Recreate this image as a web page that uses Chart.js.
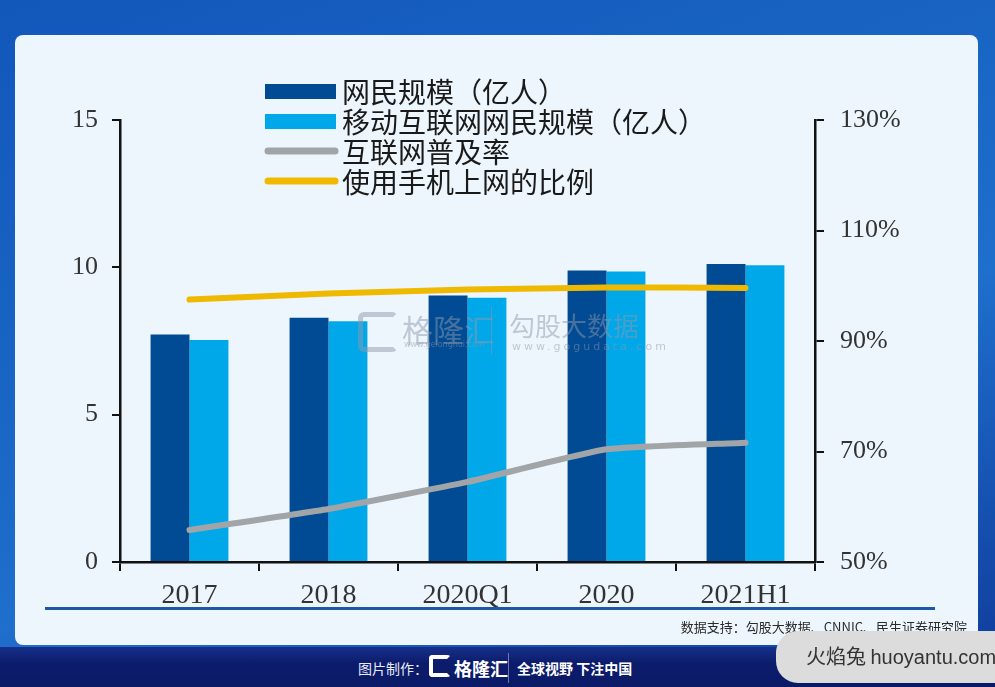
<!DOCTYPE html>
<html>
<head>
<meta charset="utf-8">
<script src="https://cdn.jsdelivr.net/npm/chart.js@4.4.1/dist/chart.umd.min.js"></script>
<style>
  html, body { margin: 0; padding: 0; }
  body {
    width: 995px; height: 687px; overflow: hidden; position: relative;
    background: linear-gradient(160deg, #1257ba 0%, #1b68c6 45%, #1f6fcc 60%, #0f3a9a 100%);
    font-family: "Noto Sans CJK SC", sans-serif;
  }
  #card {
    position: absolute; left: 15px; top: 35px; width: 963px; height: 610px;
    background: #eef6fd; border-radius: 8px;
  }
  #strip {
    position: absolute; left: 0; top: 647px; width: 995px; height: 40px;
    background: linear-gradient(180deg, #16308a 0%, #0c1c6c 40%, #0b1a66 100%);
  }
  #wrap { position: absolute; left: 15px; top: 35px; width: 963px; height: 610px; }
  .wm { position: absolute; color: #8e97aa; opacity: 0.5; white-space: nowrap; }
  .txt { position: absolute; white-space: nowrap; }
</style>
</head>
<body>
<div id="card"></div>
<div id="strip"></div>
<div id="wrap"><canvas id="chart"></canvas></div>

<!-- watermark -->
<div class="wm" style="left:358px;top:312px;width:30px;height:30px;border:5px solid #8e97aa;border-radius:6px;border-right-color:transparent;"></div>
<div class="wm" style="left:402px;top:306px;font-size:31px;">格隆汇</div>
<div class="wm" style="left:404px;top:340px;font-size:8px;font-family:'DejaVu Sans';">www.gelonghui.com</div>
<div class="wm" style="left:491px;top:307px;width:1px;height:48px;background:#8e97aa;"></div>
<div class="wm" style="left:509px;top:306px;font-size:26px;">勾股大数据</div>
<div class="wm" style="left:512px;top:340px;font-size:11px;letter-spacing:3px;font-family:'DejaVu Sans';">www.gogudata.com</div>

<!-- separator line and source -->
<div style="position:absolute;left:45px;top:607px;width:890px;height:3px;background:#1c58a6;"></div>
<div class="txt" style="right:28px;top:617px;font-size:13px;color:#2a2a2a;">数据支持：勾股大数据、CNNIC、民生证券研究院</div>

<!-- bottom strip -->
<div class="txt" style="left:358px;top:658px;font-size:14px;color:#e8ecf7;">图片制作：</div>
<div class="txt" style="left:429px;top:655px;width:22px;height:22px;border:4px solid #fff;border-radius:4px;border-right-color:transparent;box-sizing:border-box;"></div>
<div class="txt" style="left:454px;top:655px;font-size:18px;font-weight:700;color:#fff;">格隆汇</div>
<div style="position:absolute;left:508px;top:653px;width:1px;height:30px;background:#6b78b0;"></div>
<div class="txt" style="left:517px;top:658px;font-size:14px;font-weight:700;color:#fff;">全球视野 下注中国</div>

<!-- corner badge -->
<div class="txt" style="left:776px;top:631px;width:240px;height:52px;background:#dcdcdc;border-radius:22px;"></div>
<div class="txt" style="left:806px;top:641px;font-size:20px;color:#333;font-family:'Noto Sans CJK SC';">火焰兔 <span style="font-family:'Liberation Sans Narrow','Liberation Sans';">huoyantu.com</span></div>

<script>
const categories = ["2017", "2018", "2020Q1", "2020", "2021H1"];
const netizens = [7.72, 8.29, 9.04, 9.89, 10.11];
const mobileNetizens = [7.53, 8.17, 8.97, 9.86, 10.07];
const penetration = [55.8, 59.6, 64.5, 70.4, 71.6];
const mobileShare = [97.5, 98.6, 99.3, 99.7, 99.6];
const leftTicks = [0, 5, 10, 15];
const rightTicks = [50, 70, 90, 110, 130];

const serif = "'Liberation Serif', 'DejaVu Serif', serif";

// legend drawn by hand, stacked in rows like the original
const stackedLegend = {
    id: "stackedLegend",
    afterDatasetsDraw(chart) {
        const ctx = chart.ctx;
        ctx.save();
        chart.data.datasets.forEach((ds, i) => {
            const y = 56 + i * 30;
            const x = 250;
            if (ds.type === "line") {
                ctx.strokeStyle = ds.borderColor;
                ctx.lineWidth = 7;
                ctx.lineCap = "round";
                ctx.beginPath();
                ctx.moveTo(x + 3, y);
                ctx.lineTo(x + 70, y);
                ctx.stroke();
            } else {
                ctx.fillStyle = ds.backgroundColor;
                ctx.fillRect(x, y - 7, 71, 15);
            }
            ctx.fillStyle = "#1a1a1a";
            ctx.font = "28px 'Noto Sans CJK SC'";
            ctx.textBaseline = "middle";
            ctx.fillText(ds.label, x + 77, y + 1);
        });
        ctx.restore();
    }
};

const ctx = document.getElementById("chart").getContext("2d");
new Chart(ctx, {
    data: {
        labels: categories,
        datasets: [{
            type: "bar",
            label: "网民规模（亿人）",
            data: netizens,
            backgroundColor: "#004b93",
            yAxisID: "y",
            order: 2
        }, {
            type: "bar",
            label: "移动互联网网民规模（亿人）",
            data: mobileNetizens,
            backgroundColor: "#00a8ea",
            yAxisID: "y",
            order: 2
        }, {
            type: "line",
            label: "互联网普及率",
            data: penetration,
            borderColor: "#a2a5a8",
            borderWidth: 6,
            borderCapStyle: "round",
            pointRadius: 0,
            tension: 0.15,
            yAxisID: "y1",
            order: 1
        }, {
            type: "line",
            label: "使用手机上网的比例",
            data: mobileShare,
            borderColor: "#efb900",
            borderWidth: 6,
            borderCapStyle: "round",
            pointRadius: 0,
            tension: 0.15,
            yAxisID: "y1",
            order: 1
        }]
    },
    options: {
        responsive: true,
        maintainAspectRatio: false,
        animation: false,
        layout: { padding: { left: 45, right: 43, top: 85, bottom: 38 } },
        datasets: {
            bar: { categoryPercentage: 0.56, barPercentage: 1.0 }
        },
        plugins: {
            legend: { display: false },
            tooltip: { enabled: false }
        },
        scales: {
            x: {
                offset: true,
                afterFit: s => { s.height = 45; },
                border: { color: "#111", width: 2.5 },
                grid: { offset: true, drawOnChartArea: false, color: "#111", tickLength: 9, lineWidth: 2 },
                ticks: { color: "#333", padding: 8, font: { family: serif, size: 28 } }
            },
            y: {
                position: "left",
                min: 0, max: 15,
                afterFit: s => { s.width = 60; },
                afterBuildTicks: s => { s.ticks = leftTicks.map(v => ({ value: v })); },
                border: { color: "#111", width: 2.5 },
                grid: { drawOnChartArea: false, color: "#111", tickLength: 8, lineWidth: 2 },
                ticks: { color: "#333", padding: 14, font: { family: serif, size: 26 } }
            },
            y1: {
                position: "right",
                min: 50, max: 130,
                afterFit: s => { s.width = 120; },
                afterBuildTicks: s => { s.ticks = rightTicks.map(v => ({ value: v })); },
                border: { color: "#111", width: 2.5 },
                grid: { drawOnChartArea: false, color: "#111", tickLength: 9, lineWidth: 2 },
                ticks: { color: "#333", padding: 16, font: { family: serif, size: 26 }, callback: v => v + "%" }
            }
        }
    },
    plugins: [stackedLegend]
});
</script>
</body>
</html>
